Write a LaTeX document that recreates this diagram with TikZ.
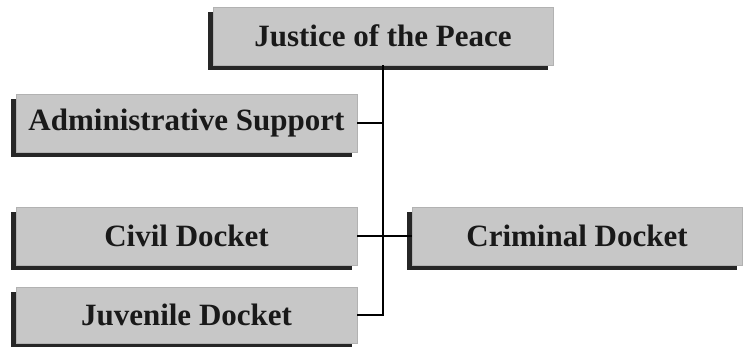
\documentclass[tikz,border=0pt]{standalone}
\usepackage{fontspec}
\setmainfont{Liberation Serif}
\usetikzlibrary{shadows}

\begin{document}
\begin{tikzpicture}[x=1pt,y=-1pt,line width=1.2pt,
  unit/.style={fill=black!22,draw=black!30,line width=.4pt,minimum height=58pt,
    inner sep=0pt,font=\bfseries\fontsize{31}{36}\selectfont,text=black!90,
    general shadow={shadow xshift=-5pt,shadow yshift=-5pt,fill=black!85}}]
\useasboundingbox (0,0) rectangle (745,347);
\node[unit,minimum width=340pt] (jp) at (383,36) {Justice of the Peace};
\node[unit,minimum width=341pt] (admin) at (186.5,123) {Administrative Support};
\node[unit,minimum width=341pt] (civil) at (186.5,236) {Civil Docket};
\node[unit,minimum width=341pt,minimum height=56pt] (juv) at (186.5,315) {Juvenile Docket};
\node[unit,minimum width=330pt] (crim) at (577,236) {Criminal Docket};
\draw (jp.south) |- (juv.east);
\draw (admin.east) -- (admin.east -| jp.south);
\draw (civil.east) -- (crim.west);
\end{tikzpicture}
\end{document}
